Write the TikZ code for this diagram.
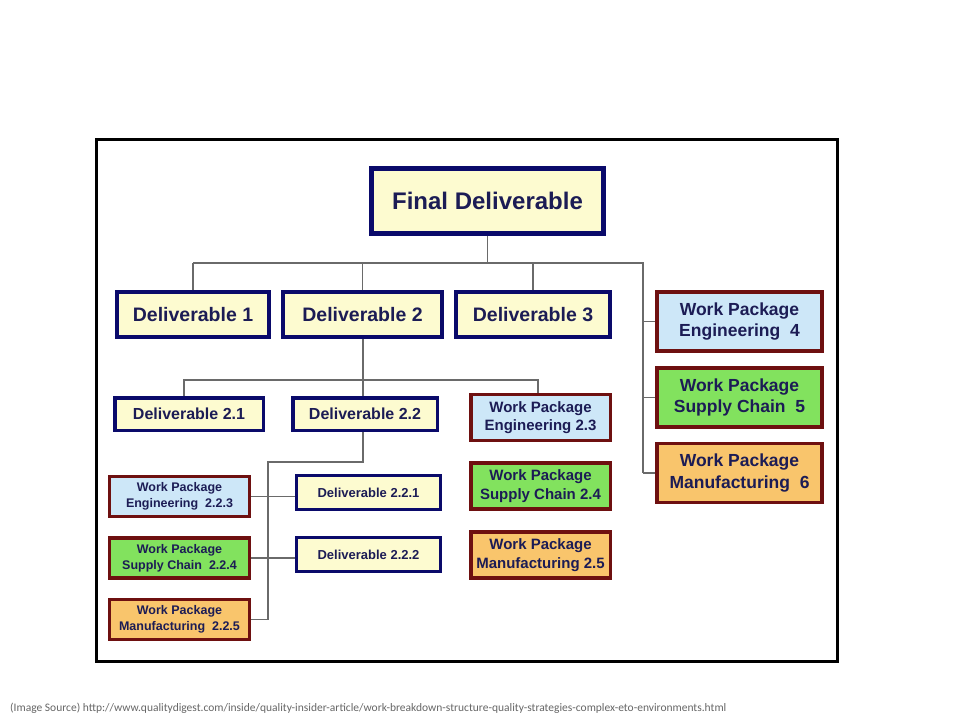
\documentclass[tikz,border=0pt]{standalone}
\usepackage{fontspec}
\setmainfont{Liberation Sans}
\newfontfamily\footfont{Carlito}
\definecolor{navy}{HTML}{0A0A6A}
\definecolor{txt}{HTML}{1C1C55}
\definecolor{dred}{HTML}{6E1010}
\definecolor{yel}{HTML}{FDFBD0}
\definecolor{lblue}{HTML}{CDE7F8}
\definecolor{lgreen}{HTML}{82E25E}
\definecolor{lorange}{HTML}{F9C56C}
\definecolor{conn}{HTML}{6A6A6A}
\tikzset{
  box/.style={rectangle, inner sep=0pt, align=center, text=txt, font=\bfseries},
  dbox/.style={box, draw=navy, fill=yel},
  wbox/.style={box, draw=dred},
  eng/.style={wbox, fill=lblue},
  sup/.style={wbox, fill=lgreen},
  man/.style={wbox, fill=lorange},
  conn/.style={draw=conn, line width=1.3pt},
}
\begin{document}
\begin{tikzpicture}[x=1pt,y=-1pt]
\useasboundingbox[fill=white] (0,0) rectangle (960,720);
\draw[line width=3pt] (96.5,139.5) rectangle (837.5,661.5);

% level 0
\node[dbox, line width=4.5pt, minimum width=232pt, minimum height=65pt, font=\bfseries\fontsize{24}{28}\selectfont] (final) at (487.5,201) {Final Deliverable};

% level 1
\tikzset{l1/.style={dbox, line width=4pt, minimum height=45pt, font=\bfseries\fontsize{19.5}{22}\selectfont}}
\node[l1, minimum width=152pt] (d1) at (193,314.5) {Deliverable 1};
\node[l1, minimum width=159pt] (d2) at (362.5,314.5) {Deliverable 2};
\node[l1, minimum width=154pt] (d3) at (533,314.5) {Deliverable 3};

\tikzset{wp1/.style={line width=3.8pt, minimum width=165pt, minimum height=59pt, font=\bfseries\fontsize{17.5}{21.5}\selectfont}}
\node[eng, wp1] (wp4) at (739.5,321.5) {Work Package\\Engineering\ \ 4};
\node[sup, wp1] (wp5) at (739.5,397.5) {Work Package\\Supply Chain\ \ 5};
\node[man, wp1] (wp6) at (739.5,473) {Work Package\\Manufacturing\ \ 6};

% level 2
\tikzset{l2/.style={dbox, line width=3.5pt, minimum height=32.5pt, font=\bfseries\fontsize{16}{19}\selectfont}}
\node[l2, minimum width=148.5pt] (d21) at (189,414) {Deliverable 2.1};
\node[l2, minimum width=144.5pt] (d22) at (365,414) {Deliverable 2.2};

\tikzset{wp2/.style={line width=3.5pt, minimum width=139.5pt, minimum height=46pt, font=\bfseries\fontsize{15}{18.5}\selectfont}}
\node[eng, wp2] (wp23) at (540.5,417.5) {Work Package\\Engineering 2.3};
\node[sup, wp2] (wp24) at (540.5,486) {Work Package\\Supply Chain 2.4};
\node[man, wp2] (wp25) at (540.5,555) {Work Package\\Manufacturing 2.5};

% level 3
\tikzset{wp3/.style={line width=3.2pt, minimum width=140pt, minimum height=40pt, font=\bfseries\fontsize{12.5}{16}\selectfont}}
\node[eng, wp3] (wp223) at (179.5,496.5) {Work Package\\Engineering\ \ 2.2.3};
\node[sup, wp3] (wp224) at (179.5,558) {Work Package\\Supply Chain\ \ 2.2.4};
\node[man, wp3] (wp225) at (179.5,619.5) {Work Package\\Manufacturing\ \ 2.2.5};

\tikzset{l3/.style={dbox, line width=3.2pt, minimum width=144pt, minimum height=34pt, font=\bfseries\fontsize{13}{16}\selectfont}}
\node[l3] (d221) at (368.5,492.5) {Deliverable 2.2.1};
\node[l3] (d222) at (368.5,554.5) {Deliverable 2.2.2};

% connectors level 0 -> 1
\coordinate (busA) at (487.5,263);
\coordinate (busAL) at (193,263);
\coordinate (busAR) at (643,263);
\coordinate (busAB) at (643,473);
\draw[conn] (final.south) -- (busA);
\draw[conn] (busAL) -- (busAR) -- (busAB);
\draw[conn] (d1.north) -- (d1.north |- busA);
\draw[conn] (d2.north) -- (d2.north |- busA);
\draw[conn] (d3.north) -- (d3.north |- busA);
\draw[conn] (wp4.west) -- (wp4.west -| busAR);
\draw[conn] (wp5.west) -- (wp5.west -| busAR);
\draw[conn] (wp6.west) -- (wp6.west -| busAR);

% connectors level 1 -> 2
\coordinate (busB) at (363,380);
\draw[conn] (d2.south -| busB) -- (busB);
\draw[conn] (d21.north -| 184,0) -- (184,380) -- (538,380) -- (wp23.north -| 538,0);
\draw[conn] (busB) -- (d22.north -| busB);

% connectors level 2 -> 3
\coordinate (busC) at (363,462);
\coordinate (busCL) at (268,462);
\coordinate (busCB) at (268,620);
\draw[conn] (d22.south -| busC) -- (busC) -- (busCL) -- (busCB);
\draw[conn] (wp223.east) -- (wp223.east -| d221.west);
\draw[conn] (wp224.east) -- (wp224.east -| d222.west);
\draw[conn] (wp225.east) -- (wp225.east -| busCB);

% footer
\node[anchor=west, inner sep=0pt, text=black!60, font=\footfont\fontsize{11.5}{13}\selectfont] (src) at (10,708) {(Image Source) http://www.qualitydigest.com/inside/quality-insider-article/work-breakdown-structure-quality-strategies-complex-eto-environments.html};
\end{tikzpicture}
\end{document}
